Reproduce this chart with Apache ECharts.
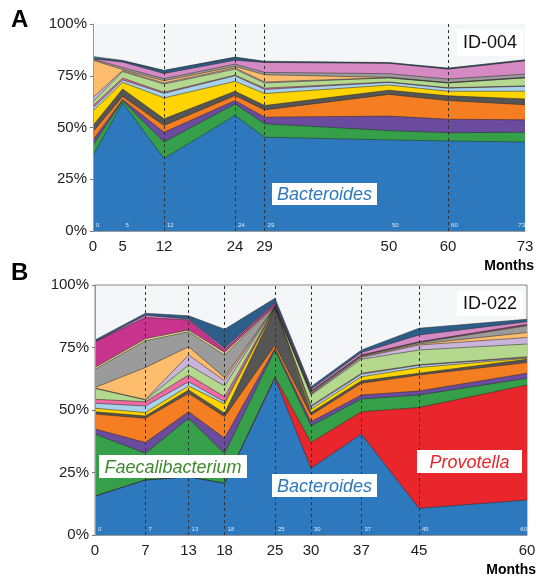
<!DOCTYPE html>
<html><head><meta charset="utf-8">
<script src="https://cdn.jsdelivr.net/npm/echarts@6/dist/echarts.min.js"></script>
<style>html,body{margin:0;padding:0;background:#fff}#c{width:545px;height:577px}</style>
</head><body><div id="c"></div>
<script>
// ---------- DATA ----------
const monthsA = [0, 5, 12, 24, 29, 50, 60, 73];
const dashedA = [12, 24, 29, 60];
const monthsB = [0, 7, 13, 18, 25, 30, 37, 45, 60];
const dashedB = [7, 13, 18, 25, 30, 37, 45];
const yTicks = [0, 25, 50, 75, 100];

// Panel A (ID-004) relative abundance per layer, bottom -> top (%)
const A_Bacteroides      = [36.5, 62.0, 35.0, 55.8, 45.3, 44.0, 43.5, 43.0];
const A_Faecalibacterium = [5.0, 1.0, 8.0, 5.6, 6.5, 4.5, 4.0, 4.7];
const A_T4  = [2.5, 0.5, 4.7, 1.6, 3.2, 7.0, 6.5, 6.0];
const A_T5  = [4.0, 1.5, 3.3, 2.4, 3.5, 10.5, 9.0, 7.3];
const A_T6  = [3.0, 3.6, 3.2, 2.1, 2.1, 2.0, 2.3, 2.8];
const A_T7  = [7.0, 3.2, 10.1, 4.8, 5.8, 2.5, 2.2, 3.7];
const A_T8  = [1.5, 1.2, 2.2, 2.7, 2.0, 1.3, 1.5, 2.4];
const A_T9  = [1.0, 0.9, 0.5, 0.3, 0.6, 0.2, 0.2, 0.2];
const A_T10 = [2.0, 3.1, 4.0, 2.9, 2.5, 2.0, 2.3, 3.9];
const A_T11 = [2.0, 0.5, 0.5, 0.6, 0.5, 0.1, 0.1, 0.1];
const A_T12 = [18.0, 0.5, 1.1, 0.7, 3.5, 0.1, 0.1, 0.1];
const A_T13 = [0.5, 1.0, 1.0, 1.1, 1.1, 1.8, 1.7, 1.6];
const A_T16 = [0.2, 2.6, 2.5, 1.9, 4.8, 5.0, 4.8, 6.4];
const A_T17 = [0.4, 0.6, 1.3, 1.3, 0.4, 0.2, 0.3, 0.3];
const A_T18 = [0.7, 0.2, 0.2, 0.2, 0.2, 0.2, 0.2, 0.2];

// Panel B (ID-022)
const B_Bacteroides      = [15.6, 22.0, 23.3, 20.7, 62.7, 26.7, 40.4, 10.7, 14.0];
const B_Provotella       = [0, 0, 0, 0, 0.5, 10.3, 8.9, 40.3, 46.0];
const B_Faecalibacterium = [24.8, 10.7, 23.4, 12.0, 10.8, 6.7, 5.1, 5.0, 2.7];
const B_T4  = [2.0, 4.3, 2.6, 6.0, 0.7, 1.6, 1.6, 1.6, 2.0];
const B_T5  = [6.0, 9.7, 7.4, 8.6, 1.3, 2.7, 4.7, 6.4, 4.3];
const B_T6  = [0.9, 0.9, 1.3, 1.4, 14.7, 1.0, 1.0, 0.7, 1.3];
const B_T7  = [1.4, 1.4, 1.6, 3.7, 0.3, 1.3, 1.6, 2.3, 0.4];
const B_T8  = [2.0, 2.6, 1.7, 0.9, 0.1, 1.0, 1.0, 0.9, 0.3];
const B_T9  = [1.6, 1.7, 2.7, 2.0, 0.1, 0.4, 0.4, 0.2, 0.3];
const B_T10 = [4.4, 0.7, 4.0, 4.3, 0.1, 4.3, 5.6, 5.9, 5.1];
const B_T11 = [0, 0.2, 4.0, 2.1, 0.1, 0.4, 0.7, 2.0, 2.6];
const B_T12 = [0.3, 12.8, 3.3, 1.3, 0.1, 0.2, 0.3, 0.4, 2.0];
const B_T13 = [7.3, 10.7, 6.0, 9.0, 0.1, 0.6, 0.4, 0.6, 2.7];
const B_T14 = [0.7, 0.8, 0.7, 1.0, 0.2, 0.1, 0.1, 0.1, 0.2];
const B_T15 = [10.3, 8.5, 4.0, 1.0, 0.9, 0.3, 0.2, 0.2, 0.4];
const B_T16 = [0, 0.9, 0.4, 0.7, 0.3, 0.7, 1.0, 2.7, 1.0];
const B_T17 = [0.7, 0.8, 1.3, 7.6, 1.7, 1.0, 1.0, 2.7, 1.0];

const layersA = [
  ['Bacteroides', A_Bacteroides], ['Faecalibacterium', A_Faecalibacterium],
  ['T4', A_T4], ['T5', A_T5], ['T6', A_T6], ['T7', A_T7], ['T8', A_T8], ['T9', A_T9],
  ['T10', A_T10], ['T11', A_T11], ['T12', A_T12], ['T13', A_T13], ['T16', A_T16],
  ['T17', A_T17], ['T18', A_T18]
];
const layersB = [
  ['Bacteroides', B_Bacteroides], ['Provotella', B_Provotella], ['Faecalibacterium', B_Faecalibacterium],
  ['T4', B_T4], ['T5', B_T5], ['T6', B_T6], ['T7', B_T7], ['T8', B_T8], ['T9', B_T9],
  ['T10', B_T10], ['T11', B_T11], ['T12', B_T12], ['T13', B_T13], ['T14', B_T14],
  ['T15', B_T15], ['T16', B_T16], ['T17', B_T17]
];

// ---------- STYLE ----------
const colors = {
  Bacteroides: '#2e78bd', Provotella: '#e8262b', Faecalibacterium: '#35a049',
  T4: '#6b4b9e', T5: '#f47e21', T6: '#555555', T7: '#ffd400', T8: '#a8d1ea',
  T9: '#ee6aa1', T10: '#b4d98e', T11: '#cab4da', T12: '#fdbd6d', T13: '#9b9b9b',
  T14: '#e6e68c', T15: '#c7338d', T16: '#d68ac4', T17: '#2c5e89', T18: '#45aab8'
};
const FONT = 'Liberation Sans, Arial, sans-serif';
const BG = '#f4f6f8';

// Cumulative tops (stacking table), drawn top layer first so lower layers paint over
function buildSeries(idx, months, layers, dashed) {
  const cum = months.map(() => 0);
  const tops = layers.map(([name, vals]) => {
    vals.forEach((v, k) => { cum[k] += v; });
    return [name, cum.slice()];
  });
  const out = [];
  for (let i = tops.length - 1; i >= 0; i--) {
    const [name, top] = tops[i];
    out.push({
      type: 'line', name: name + (idx ? ' B' : ' A'),
      xAxisIndex: idx * 2, yAxisIndex: idx,
      data: months.map((m, k) => [m, top[k]]),
      showSymbol: false, symbol: 'none', silent: true,
      lineStyle: { color: 'rgba(40,40,40,0.75)', width: 0.7 },
      areaStyle: { color: colors[name], opacity: 1, origin: 'start' },
      z: 2
    });
  }
  out.push({
    type: 'line', name: 'dashed' + idx, xAxisIndex: idx * 2, yAxisIndex: idx,
    data: [], silent: true, z: 5,
    markLine: {
      silent: true, symbol: ['none', 'none'], label: { show: false },
      lineStyle: { type: [3, 3], color: '#333', width: 1 },
      data: dashed.map(d => ({ xAxis: d }))
    }
  });
  return out;
}

function xAxes(gridIdx, months, max) {
  return [{
    type: 'value', gridIndex: gridIdx, min: 0, max: max,
    axisLine: { show: true, lineStyle: { color: '#999', width: 1 } },
    axisTick: { show: false }, splitLine: { show: false },
    axisLabel: { customValues: months, fontSize: 15, color: '#222', fontFamily: FONT, margin: 8 }
  }, {
    type: 'value', gridIndex: gridIdx, min: 0, max: max, position: 'bottom', z: 20,
    axisLine: { show: false }, axisTick: { show: false }, splitLine: { show: false },
    axisLabel: { customValues: months, inside: true, fontSize: 6, color: 'rgba(255,255,255,0.85)',
      fontFamily: FONT, align: 'left', padding: [0, 0, 0, 3], margin: 3,
      alignMaxLabel: 'right', showMaxLabel: true, showMinLabel: true }
  }];
}

function yAxis(gridIdx) {
  return {
    type: 'value', gridIndex: gridIdx, min: 0, max: 100, interval: 25, z: 10,
    axisLine: { show: true, lineStyle: { color: '#999', width: 1 } },
    axisTick: { show: true, length: 3, lineStyle: { color: '#777' } },
    splitLine: { show: false },
    axisLabel: { formatter: '{value}%', fontSize: 15, color: '#222', fontFamily: FONT, margin: 6 }
  };
}

function label(text, x, y, w, h, color, font) {
  return {
    type: 'group', left: x, top: y, z: 100,
    children: [
      { type: 'rect', z: 100, shape: { x: 0, y: 0, width: w, height: h }, style: { fill: '#fff' } },
      { type: 'text', z: 101, style: { text: text, x: w / 2, y: h / 2 + 1, align: 'center', verticalAlign: 'middle',
          fill: color, font: font || ('italic 18px ' + FONT) } }
    ]
  };
}

const chart = echarts.init(document.getElementById('c'), null, { renderer: 'canvas' });
chart.setOption({
  animation: false,
  backgroundColor: '#fff',
  grid: [
    { left: 93, top: 24, width: 432, height: 207, show: true, backgroundColor: BG, borderWidth: 0 },
    { left: 95, top: 285, width: 432, height: 250, show: true, backgroundColor: BG, borderColor: '#888', borderWidth: 1 }
  ],
  xAxis: [...xAxes(0, monthsA, 73), ...xAxes(1, monthsB, 60)],
  yAxis: [yAxis(0), yAxis(1)],
  series: [...buildSeries(0, monthsA, layersA, dashedA), ...buildSeries(1, monthsB, layersB, dashedB)],
  graphic: [
    { type: 'text', left: 11, top: 8, z: 100, style: { text: 'A', font: 'bold 24px ' + FONT, fill: '#000' } },
    { type: 'text', left: 11, top: 261, z: 100, style: { text: 'B', font: 'bold 24px ' + FONT, fill: '#000' } },
    { type: 'text', right: 11, top: 259, z: 100, style: { text: 'Months', font: 'bold 14px ' + FONT, fill: '#000' } },
    { type: 'text', right: 9, top: 563, z: 100, style: { text: 'Months', font: 'bold 14px ' + FONT, fill: '#000' } },
    label('ID-004', 457, 29, 66, 27, '#111', '18px ' + FONT),
    label('ID-022', 457, 291, 66, 25, '#111', '18px ' + FONT),
    label('Bacteroides', 272, 183, 105, 22, '#2e78bd'),
    label('Bacteroides', 272, 474, 105, 23, '#2e78bd'),
    label('Faecalibacterium', 99, 455, 148, 23, '#3f8a2e'),
    label('Provotella', 417, 450, 105, 23, '#e8262b')
  ]
});
</script></body></html>
